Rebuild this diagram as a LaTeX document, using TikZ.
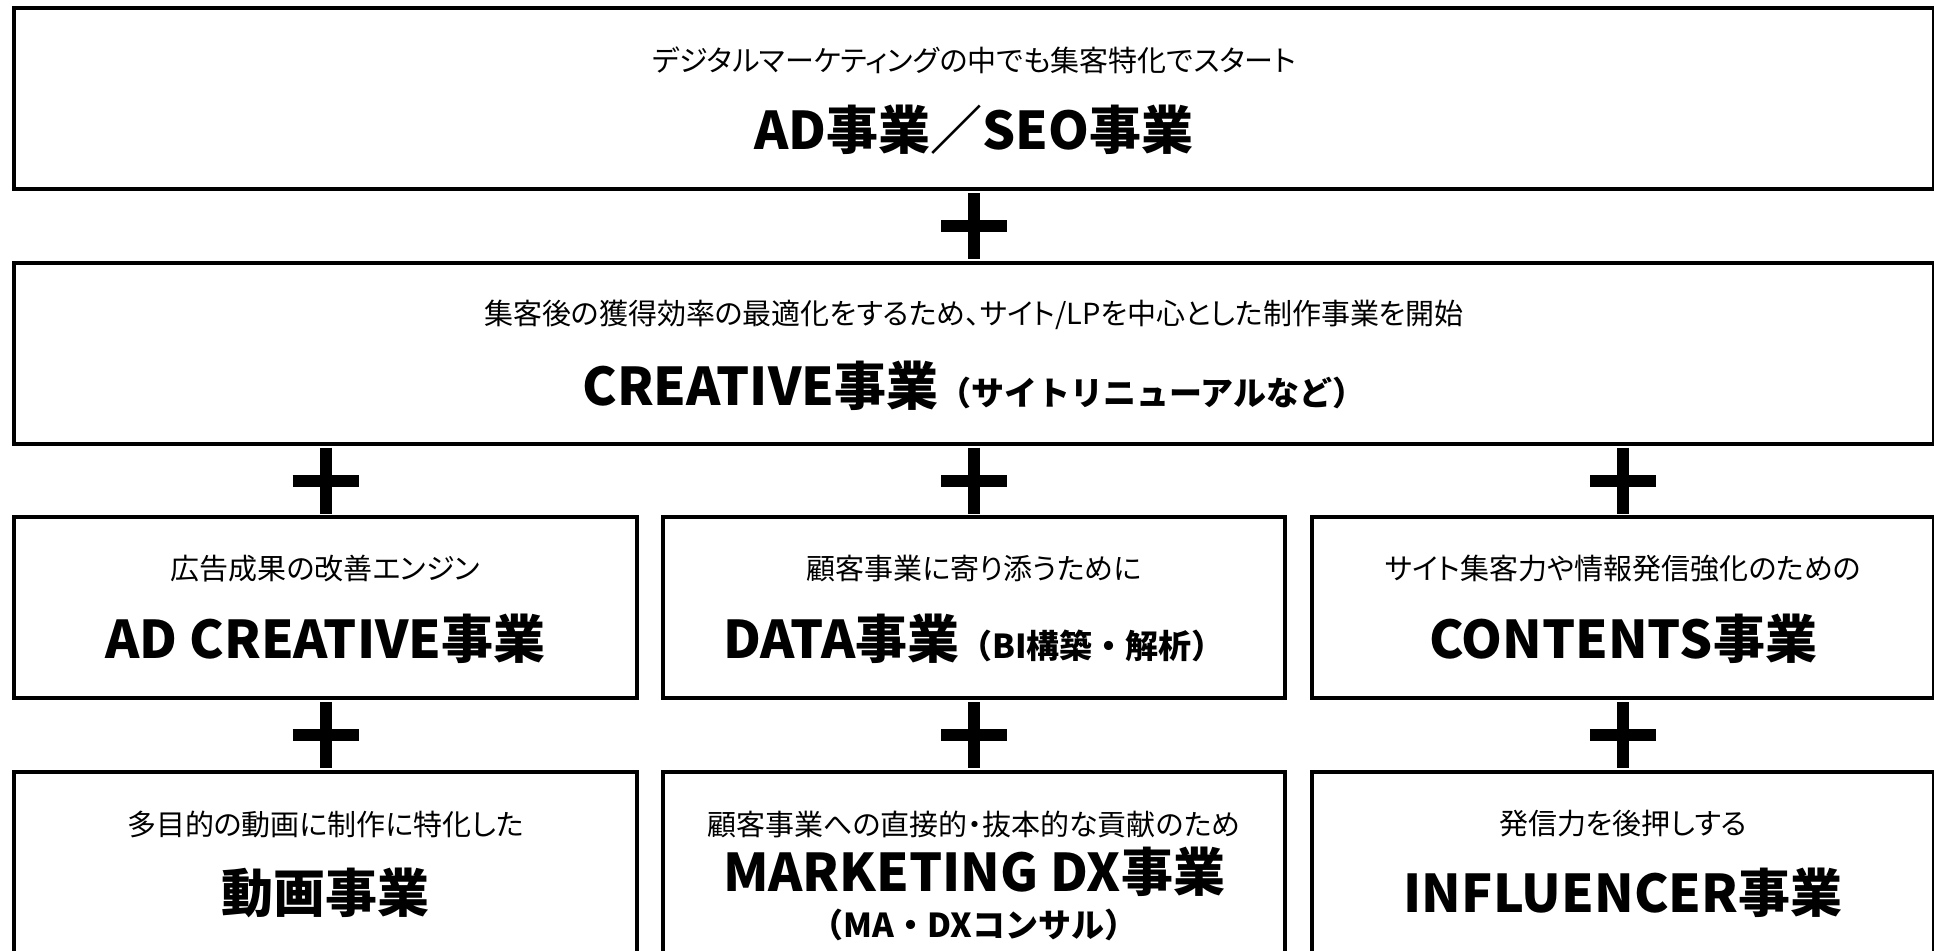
\documentclass[tikz,border=0pt]{standalone}
\usepackage{fontspec}
\setmainfont{Noto Sans CJK JP}
\newfontfamily\jplead[RawFeature=+palt]{Noto Sans CJK JP}
\usetikzlibrary{calc}

\newcommand{\subsize}{\fontsize{33}{37}\selectfont}
\newcommand{\plusmark}[1]{\draw[plusbar] (#1) +(-33,0) -- +(33,0) (#1) +(0,-33) -- +(0,33);}

\tikzset{
  jobbox/.style={draw, line width=4pt, inner sep=0pt, minimum height=181pt},
  leadtxt/.style={font=\jplead\fontsize{29}{32}\selectfont, inner sep=0pt},
  titletxt/.style={font=\bfseries\fontsize{52}{56}\selectfont, inner sep=0pt},
  subtxt/.style={font=\bfseries\subsize, inner sep=0pt},
  plusbar/.style={line width=12pt},
}

\begin{document}
\begin{tikzpicture}[x=1pt,y=1pt,yscale=-1,xscale=1]
 		\useasboundingbox (0,0) rectangle (1934,950);
 		\clip (0,0) rectangle (1934,950);
 		
 		%Shape: Rectangle [id:top]
 		\node[jobbox, minimum width=1920pt] (ad) at (974,98.5) {};
 		%Shape: Rectangle [id:creative]
 		\node[jobbox, minimum width=1920pt] (cr) at (974,353.5) {};
 		%Shape: Rectangle [id:row3]
 		\node[jobbox, minimum width=623pt] (adc) at (325.5,607.5) {};
 		\node[jobbox, minimum width=622pt] (dat) at (974,607.5) {};
 		\node[jobbox, minimum width=622pt] (con) at (1623,607.5) {};
 		%Shape: Rectangle [id:row4]
 		\node[jobbox, minimum width=623pt] (mov) at (325.5,862.5) {};
 		\node[jobbox, minimum width=622pt] (mdx) at (974,862.5) {};
 		\node[jobbox, minimum width=622pt] (inf) at (1623,862.5) {};
 		
 		%Plus signs
 		\path (ad.south) -- (cr.north) coordinate[midway] (p0);
 		\path (cr.south -| adc.north) -- (adc.north) coordinate[midway] (p1);
 		\path (cr.south -| dat.north) -- (dat.north) coordinate[midway] (p2);
 		\path (cr.south -| con.north) -- (con.north) coordinate[midway] (p3);
 		\path (adc.south) -- (mov.north) coordinate[midway] (p4);
 		\path (dat.south) -- (mdx.north) coordinate[midway] (p5);
 		\path (con.south) -- (inf.north) coordinate[midway] (p6);
 		\plusmark{p0}
 		\plusmark{p1}
 		\plusmark{p2}
 		\plusmark{p3}
 		\plusmark{p4}
 		\plusmark{p5}
 		\plusmark{p6}
 		
 		% Text Node
 		\node[leadtxt] (adlead) at (974,60) {デジタルマーケティングの中でも集客特化でスタート};
 		% Text Node
 		\node[titletxt] (adtitle) at (974,130) {AD事業／SEO事業};
 		% Text Node
 		\node[leadtxt] (crlead) at (974,315) {集客後の獲得効率の最適化をするため、サイト/LPを中心とした制作事業を開始};
 		% Text Node
 		\node[titletxt] (crtitle) at (974,386) {CREATIVE事業{\subsize （サイトリニューアルなど）}};
 		% Text Node
 		\node[leadtxt] (adclead) at (325.5,569) {広告成果の改善エンジン};
 		% Text Node
 		\node[titletxt] (adctitle) at (325.5,639) {AD CREATIVE事業};
 		% Text Node
 		\node[leadtxt] (datlead) at (974,569) {顧客事業に寄り添うために};
 		% Text Node
 		\node[titletxt] (dattitle) at (974,639) {DATA事業{\subsize （BI構築・解析）}};
 		% Text Node
 		\node[leadtxt] (conlead) at (1623,569) {サイト集客力や情報発信強化のための};
 		% Text Node
 		\node[titletxt] (contitle) at (1623,639) {CONTENTS事業};
 		% Text Node
 		\node[leadtxt] (movlead) at (325.5,824) {多目的の動画に制作に特化した};
 		% Text Node
 		\node[titletxt] (movtitle) at (325.5,893) {動画事業};
 		% Text Node
 		\node[leadtxt] (mdxlead) at (974,824) {顧客事業への直接的・抜本的な貢献のため};
 		% Text Node
 		\node[titletxt] (mdxtitle) at (974,872) {MARKETING DX事業};
 		% Text Node
 		\node[subtxt] (mdxsub) at (974,925) {（MA・DXコンサル）};
 		% Text Node
 		\node[leadtxt] (inflead) at (1623,824) {発信力を後押しする};
 		% Text Node
 		\node[titletxt] (inftitle) at (1623,893) {INFLUENCER事業};
 		
\end{tikzpicture}
\end{document}
